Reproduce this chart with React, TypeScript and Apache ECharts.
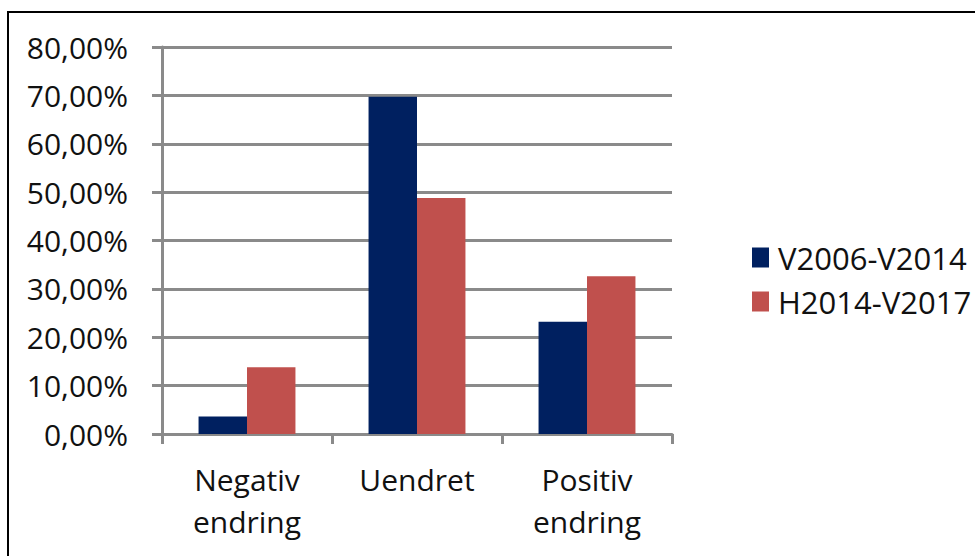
import React, { useEffect, useRef } from "react";
import * as echarts from "echarts";

const categories = ["Negativ\nendring", "Uendret", "Positiv\nendring"];
const seriesNames = ["V2006-V2014", "H2014-V2017"];
const seriesA = [3.6, 69.7, 23.2];
const seriesB = [13.8, 48.8, 32.6];
const colors = ["#002060", "#C0504D"];

export default function App() {
  const ref = useRef<HTMLDivElement>(null);
  useEffect(() => {
    if (!ref.current) return;
    const chart = echarts.init(ref.current, null, { renderer: "svg" });
    const font = "Open Sans";
    chart.setOption({
      animation: false,
      backgroundColor: "#ffffff",
      textStyle: { fontFamily: font },
      graphic: [
        {
          type: "rect",
          shape: { x: 8, y: 12, width: 1000, height: 600 },
          style: { fill: "none", stroke: "#000", lineWidth: 2 },
          silent: true,
        },
      ],
      grid: { left: 162, right: 303, top: 47, bottom: 122 },
      legend: {
        orient: "vertical",
        left: 747,
        top: 237,
        itemWidth: 17,
        itemHeight: 20,
        itemGap: 13,
        icon: "rect",
        data: seriesNames,
        textStyle: {
          fontFamily: font,
          fontSize: 31,
          color: "#111",
          padding: [0, 0, 0, 4],
        },
      },
      xAxis: {
        type: "category",
        data: categories,
        axisLine: { show: true, lineStyle: { color: "#8a8a8a", width: 3 } },
        axisTick: { show: true, length: 10, lineStyle: { color: "#8a8a8a", width: 3 } },
        axisLabel: {
          fontFamily: font,
          fontSize: 30,
          color: "#111",
          lineHeight: 42,
          margin: 24,
        },
      },
      yAxis: {
        type: "value",
        min: 0,
        max: 80,
        interval: 10,
        axisLine: { show: true, lineStyle: { color: "#8a8a8a", width: 3 } },
        axisTick: { show: true, length: 10, lineStyle: { color: "#8a8a8a", width: 3 } },
        splitLine: { show: true, lineStyle: { color: "#8a8a8a", width: 3 } },
        axisLabel: {
          fontFamily: font,
          fontSize: 30,
          color: "#111",
          margin: 34,
          formatter: (v: number) => v.toFixed(2).replace(".", ",") + "%",
        },
      },
      series: [
        {
          name: seriesNames[0],
          type: "bar",
          data: seriesA,
          itemStyle: { color: colors[0] },
          barGap: "0%",
          barCategoryGap: "43%",
        },
        {
          name: seriesNames[1],
          type: "bar",
          data: seriesB,
          itemStyle: { color: colors[1] },
          barGap: "0%",
          barCategoryGap: "43%",
        },
      ],
    });
    return () => chart.dispose();
  }, []);
  return (
    <div
      ref={ref}
      style={{ position: "absolute", left: 0, top: 0, width: 975, height: 556 }}
    />
  );
}
